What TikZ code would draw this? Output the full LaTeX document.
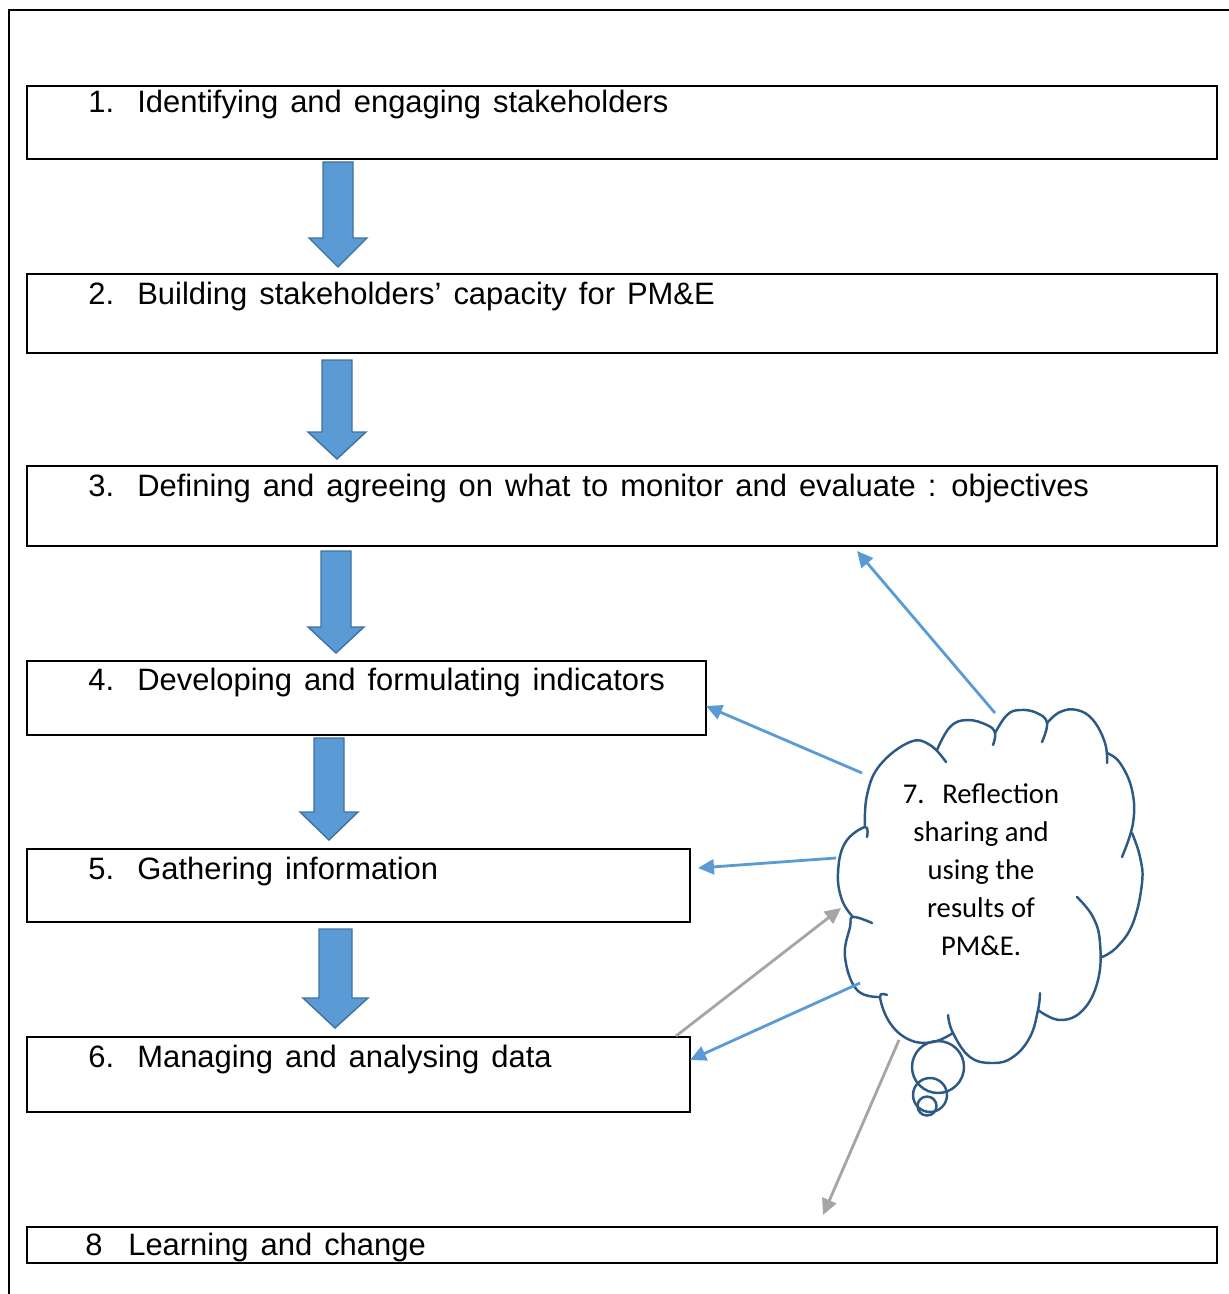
\documentclass[tikz,border=0pt]{standalone}
\usepackage{fontspec}
\setmainfont[WordSpace=1.4]{Liberation Sans}
\newfontfamily\cloudfont{Carlito}
\usetikzlibrary{arrows.meta}
\definecolor{arrowblue}{HTML}{5B9BD5}
\definecolor{arrowedge}{HTML}{41719C}
\definecolor{cloudblue}{HTML}{2C5985}
\definecolor{greyline}{HTML}{A5A5A5}
\begin{document}
\begin{tikzpicture}[x=0.02cm,y=-0.02cm,
  stagebox/.style={draw=black, line width=1.1pt, inner sep=0pt, outer sep=0pt, anchor=north west},
  stagetext/.style={anchor=base west, inner sep=0pt, font=\fontsize{17.6}{20}\selectfont},
  blockarrow/.style={fill=arrowblue, draw=arrowedge, line width=0.8pt, line join=miter},
  cloudline/.style={draw=cloudblue, line width=1.4pt, line cap=round},
  cloudtext/.style={align=center, inner sep=0pt, font=\cloudfont\fontsize{16.3}{21.6}\selectfont},
  bluelink/.style={draw=arrowblue, line width=1.6pt, -{Triangle[length=0.32cm,width=0.3cm]}},
  greylink/.style={draw=greyline, line width=1.6pt, -{Triangle[length=0.32cm,width=0.3cm]}}
]
\useasboundingbox (0,0) rectangle (1229,1294);
% outer frame
\draw[line width=0.9pt] (9,1294) -- (9,10) -- (1229,10);

% boxes
\node[stagebox, minimum width=23.8cm, minimum height=1.46cm] (b1) at (27,86) {};
\node[stagebox, minimum width=23.8cm, minimum height=1.58cm] (b2) at (27,274) {};
\node[stagebox, minimum width=23.8cm, minimum height=1.6cm] (b3) at (27,466) {};
\node[stagebox, minimum width=13.58cm, minimum height=1.48cm] (b4) at (27,661) {};
\node[stagebox, minimum width=13.26cm, minimum height=1.46cm] (b5) at (27,849) {};
\node[stagebox, minimum width=13.26cm, minimum height=1.5cm] (b6) at (27,1037) {};
\node[stagebox, minimum width=23.8cm, minimum height=0.72cm] (b8) at (27,1227) {};

% texts
\node[stagetext] (n1) at (88,113) {1.};
\node[stagetext] (t1) at (137,113) {Identifying and engaging stakeholders};
\node[stagetext] (n2) at (88,304) {2.};
\node[stagetext] (t2) at (137,304) {Building stakeholders’ capacity for PM\&E};
\node[stagetext] (n3) at (88,496) {3.};
\node[stagetext] (t3) at (137,496) {Defining and agreeing on what to monitor and evaluate : objectives};
\node[stagetext] (n4) at (88,690) {4.};
\node[stagetext] (t4) at (137,690) {Developing and formulating indicators};
\node[stagetext] (n5) at (88,879) {5.};
\node[stagetext] (t5) at (137,879) {Gathering information};
\node[stagetext] (n6) at (88,1067) {6.};
\node[stagetext] (t6) at (137,1067) {Managing and analysing data};
\node[stagetext] (n8) at (85,1255) {8};
\node[stagetext] (t8) at (128,1255) {Learning and change};

% block arrows
\draw[blockarrow] (323,162) -- (353,162) -- (353,238) -- (367,238) -- (338,267) -- (309,238) -- (323,238) -- cycle;
\draw[blockarrow] (322,360) -- (352,360) -- (352,432) -- (366,432) -- (337,459) -- (308,432) -- (322,432) -- cycle;
\draw[blockarrow] (321,551) -- (351,551) -- (351,627) -- (364,627) -- (336,653) -- (308,627) -- (321,627) -- cycle;
\draw[blockarrow] (314,738) -- (344,738) -- (344,812) -- (358,812) -- (329,840) -- (300,812) -- (314,812) -- cycle;
\draw[blockarrow] (319,929) -- (352,929) -- (352,998) -- (368,998) -- (335,1028) -- (303,998) -- (319,998) -- cycle;

% cloud
\draw[cloudline] plot[smooth, tension=0.7] coordinates {(865,827) (867,795) (880,765) (910,742) (930,745) (946,762)};
\draw[cloudline] plot[smooth, tension=0.7] coordinates {(937,750) (950,727) (967,720) (987,725) (995,733) (993,745)};
\draw[cloudline] plot[smooth, tension=0.7] coordinates {(995,733) (1007,715) (1020,710) (1037,713) (1047,723) (1042,742)};
\draw[cloudline] plot[smooth, tension=0.7] coordinates {(1047,723) (1060,712) (1077,710) (1093,720) (1105,743) (1107,763)};
\draw[cloudline] plot[smooth, tension=0.7] coordinates {(1107,753) (1120,763) (1132,790) (1133,823) (1122,857)};
\draw[cloudline] plot[smooth, tension=0.7] coordinates {(1132,833) (1140,857) (1142,883) (1133,923) (1117,947) (1102,957)};
\draw[cloudline] plot[smooth, tension=0.7] coordinates {(1077,897) (1093,917) (1100,943) (1098,980) (1083,1010) (1060,1020) (1038,1010)};
\draw[cloudline] plot[smooth, tension=0.7] coordinates {(1040,993) (1038,1010) (1030,1037) (1013,1057) (993,1063) (970,1057) (953,1033) (948,1015)};
\draw[cloudline] plot[smooth, tension=0.7] coordinates {(953,1033) (933,1042) (910,1040) (890,1023) (880,997) (887,995)};
\draw[cloudline] plot[smooth, tension=0.7] coordinates {(880,997) (857,990) (845,957) (850,927) (853,917) (872,923)};
\draw[cloudline] plot[smooth, tension=0.7] coordinates {(853,917) (842,900) (838,873) (845,843) (865,827) (867,837)};
\draw[cloudline] (938,1067) circle[radius=26];
\draw[cloudline] (930,1095) circle[radius=17];
\draw[cloudline] (927,1106) circle[radius=9.5];

\node[cloudtext] (c7) at (981,870) {7.\ \ \,Reflection\\sharing and\\using the\\results of\\PM\&E.};

% connector end points
\coordinate (c7a) at (995,713);
\coordinate (c7b) at (862,773);
\coordinate (c7c) at (836,858);
\coordinate (c7d) at (860,983);
\coordinate (c7e) at (841,908);
\coordinate (c7f) at (899,1040);
\coordinate (b3e) at (857,551);
\coordinate (b4e) at (706,706);
\coordinate (b5e) at (698,868);
\coordinate (b6e) at (690,1060);
\coordinate (b6s) at (676,1036);
\coordinate (b8e) at (823,1215);

\draw[bluelink] (c7a) -- (b3e);
\draw[bluelink] (c7b) -- (b4e);
\draw[bluelink] (c7c) -- (b5e);
\draw[bluelink] (c7d) -- (b6e);
\draw[greylink] (b6s) -- (c7e);
\draw[greylink] (c7f) -- (b8e);
\end{tikzpicture}
\end{document}
